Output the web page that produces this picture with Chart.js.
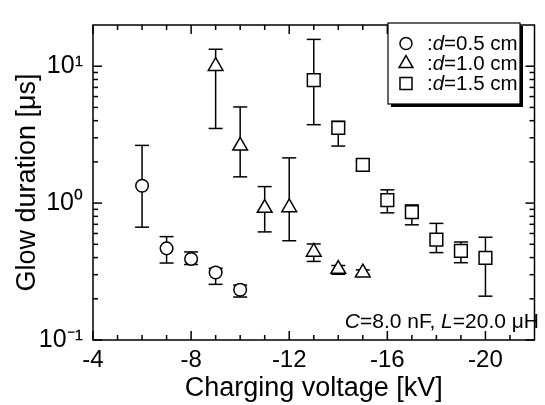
<!DOCTYPE html>
<html><head><meta charset="utf-8">
<script src="https://cdn.jsdelivr.net/npm/chart.js@4/dist/chart.umd.min.js"></script>
<style>html,body{margin:0;padding:0;background:#fff}canvas{display:block}</style>
</head><body>
<canvas id="c" width="545" height="405"></canvas>
<script>
const FONT = '"Liberation Sans", Arial, Helvetica, sans-serif';

// ---- data ----
const seriesLabels = ['d=0.5 cm', 'd=1.0 cm', 'd=1.5 cm'];
const x05 = [-6, -7, -8, -9, -10];
const y05 = [1.34, 0.467, 0.391, 0.311, 0.233];
const hi05 = [2.64, 0.569, 0.44, 0.334, 0.252];
const lo05 = [0.667, 0.365, 0.356, 0.255, 0.206];

const x10 = [-9, -10, -11, -12, -13, -14, -15];
const y10 = [10.0, 2.62, 0.92, 0.93, 0.44, 0.33, 0.31];
const hi10 = [13.3, 5.04, 1.32, 2.14, 0.503, 0.35, 0.325];
const lo10 = [3.51, 1.555, 0.616, 0.531, 0.375, 0.302, 0.30];

const x15 = [-13, -14, -15, -16, -17, -18, -19, -20];
const y15 = [7.9, 3.54, 1.9, 1.05, 0.86, 0.54, 0.447, 0.398];
const hi15 = [15.7, 3.96, 2.05, 1.25, 0.97, 0.711, 0.52, 0.563];
const lo15 = [3.74, 2.61, 1.72, 0.849, 0.694, 0.435, 0.367, 0.209];

const xMajorTicks = [-4, -8, -12, -16, -20];
const xTickLabels = ['-4', '-8', '-12', '-16', '-20'];
const xMinorTicks = [-5, -6, -7, -9, -10, -11, -13, -14, -15, -17, -18, -19, -21];
const yMajorTicks = [0.1, 1, 10];
const yTickLabels = ['10\u207B\u00B9', '10\u2070', '10\u00B9'];
const yMinorTicks = [0.2, 0.3, 0.4, 0.5, 0.6, 0.7, 0.8, 0.9, 2, 3, 4, 5, 6, 7, 8, 9];

const xTitle = 'Charging voltage [kV]';
const yTitle = 'Glow duration [\u03BCs]';
const noteParts = [['C', true], ['=8.0 nF, ', false], ['L', true], ['=20.0 \u03BCH', false]];

function mk(xs, ys) { return xs.map((x, i) => ({ x: x, y: ys[i] })); }

const datasets = [
  { label: seriesLabels[0], data: mk(x05, y05), hi: hi05, lo: lo05, pointStyle: 'circle', pointRadius: 6.3 },
  { label: seriesLabels[1], data: mk(x10, y10), hi: hi10, lo: lo10, pointStyle: 'triangle', pointRadius: 8.5 },
  { label: seriesLabels[2], data: mk(x15, y15), hi: hi15, lo: lo15, pointStyle: 'rect', pointRadius: 9 }
].map(d => Object.assign(d, {
  showLine: false, borderColor: '#000', backgroundColor: '#fff',
  pointBackgroundColor: '#fff', pointBorderColor: '#000', pointBorderWidth: 1.5,
  pointHoverRadius: d.pointRadius
}));

function line(ctx, x1, y1, x2, y2) { ctx.beginPath(); ctx.moveTo(x1, y1); ctx.lineTo(x2, y2); ctx.stroke(); }

function drawParts(ctx, parts, x, y, size, align) {
  const fonts = parts.map(p => (p[1] ? 'italic ' : '') + size + 'px ' + FONT);
  let widths = parts.map((p, i) => { ctx.font = fonts[i]; return ctx.measureText(p[0]).width; });
  let total = widths.reduce((a, b) => a + b, 0);
  let cx = align === 'right' ? x - total : x;
  ctx.textAlign = 'left';
  parts.forEach((p, i) => { ctx.font = fonts[i]; ctx.fillText(p[0], cx, y); cx += widths[i]; });
}

const errorBars = {
  id: 'errorBars',
  beforeDatasetsDraw(chart) {
    const ctx = chart.ctx, xs = chart.scales.x, ys = chart.scales.y;
    ctx.save();
    ctx.strokeStyle = '#000'; ctx.lineWidth = 1.5;
    chart.data.datasets.forEach(ds => {
      ds.data.forEach((p, i) => {
        const px = xs.getPixelForValue(p.x);
        const pt = ys.getPixelForValue(ds.hi[i]);
        const pb = ys.getPixelForValue(ds.lo[i]);
        line(ctx, px, pt, px, pb);
        line(ctx, px - 7, pt, px + 7, pt);
        line(ctx, px - 7, pb, px + 7, pb);
      });
    });
    ctx.restore();
  }
};

const frame = {
  id: 'frame',
  afterDraw(chart) {
    const ctx = chart.ctx, xs = chart.scales.x, ys = chart.scales.y, a = chart.chartArea;
    ctx.save();
    ctx.strokeStyle = '#000'; ctx.lineWidth = 1.5;
    xMajorTicks.forEach(v => { const p = xs.getPixelForValue(v); line(ctx, p, a.bottom, p, a.bottom - 9); line(ctx, p, a.top, p, a.top + 9); });
    xMinorTicks.forEach(v => { const p = xs.getPixelForValue(v); line(ctx, p, a.bottom, p, a.bottom - 5); line(ctx, p, a.top, p, a.top + 5); });
    yMajorTicks.forEach(v => { const p = ys.getPixelForValue(v); line(ctx, a.left, p, a.left + 9, p); line(ctx, a.right, p, a.right - 9, p); });
    yMinorTicks.forEach(v => { const p = ys.getPixelForValue(v); line(ctx, a.left, p, a.left + 5, p); line(ctx, a.right, p, a.right - 5, p); });
    ctx.strokeRect(a.left, a.top, a.right - a.left, a.bottom - a.top);

    // legend box with shadow
    const lx = 388, ly = 23, lw = 132, lh = 81;
    ctx.fillStyle = '#000';
    ctx.fillRect(lx + 3, ly + 3, lw, lh);
    ctx.fillStyle = '#fff';
    ctx.fillRect(lx, ly, lw, lh);
    ctx.lineWidth = 1.2;
    ctx.strokeRect(lx, ly, lw, lh);
    chart.data.datasets.forEach((ds, i) => {
      const cy = 43.5 + i * 20;
      ctx.lineWidth = 1.5; ctx.strokeStyle = '#000'; ctx.fillStyle = '#fff';
      const r = ds.pointStyle === 'circle' ? 6 : (ds.pointStyle === 'triangle' ? 8 : 8.5);
      Chart.helpers.drawPoint(ctx, { pointStyle: ds.pointStyle, radius: r, rotation: 0, borderWidth: 1.5 }, 406, cy);
      ctx.fillStyle = '#000'; ctx.textBaseline = 'middle';
      const lab = ds.label;
      drawParts(ctx, [[':', false], [lab.charAt(0), true], [lab.slice(1), false]], 427, cy + 1, 20.5, 'left');
    });

    // note
    ctx.fillStyle = '#000'; ctx.textBaseline = 'alphabetic';
    drawParts(ctx, noteParts, 539, 328, 21, 'right');
    ctx.restore();
  }
};

new Chart(document.getElementById('c'), {
  type: 'scatter',
  data: { datasets: datasets },
  options: {
    responsive: false, animation: false,
    layout: { padding: { top: 11, right: 2, left: 0, bottom: 0 } },
    plugins: { legend: { display: false }, tooltip: { enabled: false } },
    scales: {
      x: {
        type: 'linear', min: -22, max: -4, reverse: true,
        grid: { display: false, drawTicks: false }, border: { display: false },
        afterBuildTicks: s => { s.ticks = xMajorTicks.map(v => ({ value: v })); },
        afterFit: s => { s.height = 65; },
        ticks: { color: '#000', padding: 6, maxRotation: 0, font: { family: FONT, size: 24 },
          callback: v => { const i = xMajorTicks.indexOf(v); return i >= 0 ? xTickLabels[i] : ''; } },
        title: { display: true, text: xTitle, color: '#000', font: { family: FONT, size: 27 }, padding: { top: 0, bottom: 0 } }
      },
      y: {
        type: 'logarithmic', min: 0.1, max: 20,
        grid: { display: false, drawTicks: false }, border: { display: false },
        afterBuildTicks: s => { s.ticks = yMajorTicks.map(v => ({ value: v })); },
        afterFit: s => { s.width = 93; },
        ticks: { color: '#000', padding: 10, font: { family: FONT, size: 25 },
          callback: v => { const i = yMajorTicks.indexOf(v); return i >= 0 ? yTickLabels[i] : ''; } },
        title: { display: true, text: yTitle, color: '#000', font: { family: FONT, size: 27 }, padding: { top: 11, bottom: 0 } }
      }
    }
  },
  plugins: [errorBars, frame]
});
</script>
</body></html>
